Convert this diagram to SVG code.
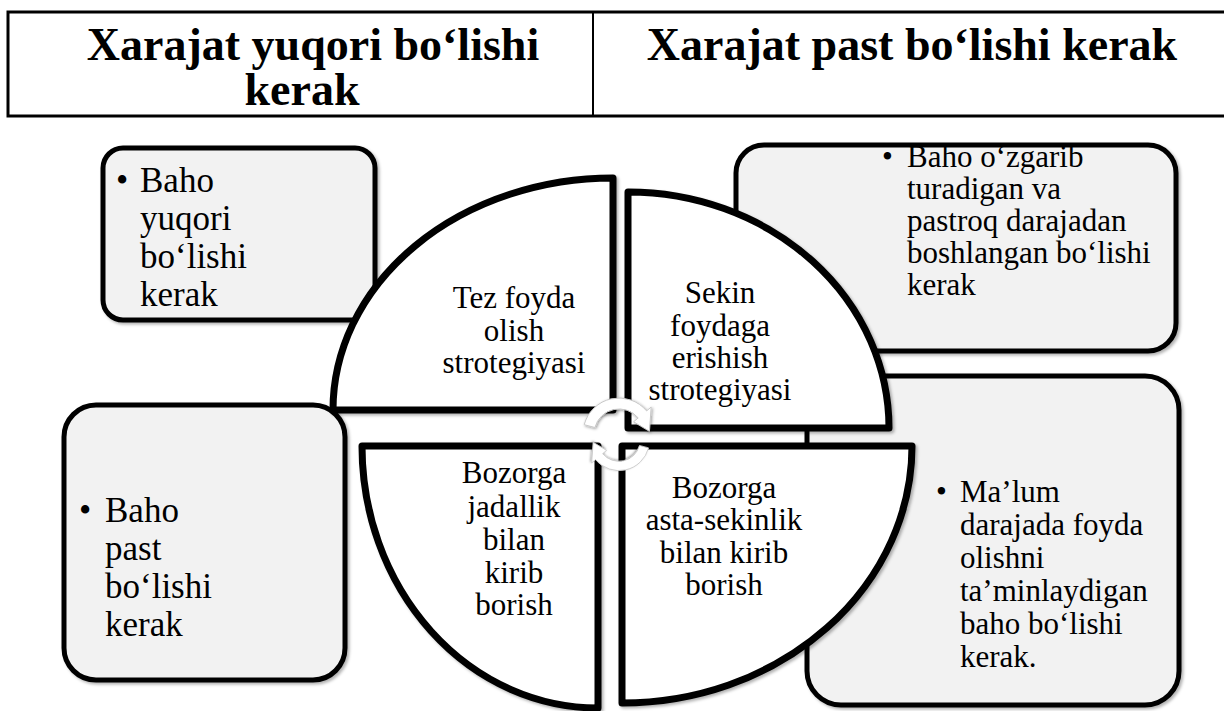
<svg xmlns="http://www.w3.org/2000/svg" width="1224" height="711" viewBox="0 0 1224 711">
  <defs>
    <filter id="shadow" x="-10%" y="-10%" width="120%" height="120%">
      <feDropShadow dx="2" dy="2" stdDeviation="1.5" flood-color="#000" flood-opacity="0.3"/>
    </filter>
    <filter id="softShadow" x="-30%" y="-30%" width="160%" height="160%">
      <feDropShadow dx="1" dy="1" stdDeviation="1.5" flood-color="#000" flood-opacity="0.4"/>
    </filter>
    <!-- curved arrow, centred on its arc centre -->
    <path id="cycleArrow" d="M-34.8,-9.3 A36,36 0 0 1 27.6,-23.1 L32.2,-27 L30.4,-2.7 L14.6,-12.2 L19.2,-16.1 A25,25 0 0 0 -24.1,-6.5 Z"/>
  </defs>
  <style>
    .head { font-weight: bold; font-size: 46px; text-anchor: middle; }
    .box { fill: #f2f2f2; stroke: #000; stroke-width: 5; filter: url(#shadow); }
    .quad { fill: #fff; stroke: #000; stroke-width: 7; stroke-linejoin: round; filter: url(#shadow); }
    .qt { font-size: 31px; text-anchor: middle; }
    .big { font-size: 35px; }
    .small { font-size: 31px; }
    .arrow { fill: #fff; stroke: #c8c8c8; stroke-width: 1; filter: url(#softShadow); }
  </style>

  <rect width="1224" height="711" fill="#fff"/>

  <g font-family="Liberation Serif, Times New Roman, serif" fill="#000">
  <!-- header table -->
  <g id="header">
    <rect x="8" y="12" width="1230" height="104" fill="#fff" stroke="#000" stroke-width="3"/>
    <line x1="593" y1="12" x2="593" y2="116" stroke="#000" stroke-width="2"/>
    <text class="head" x="313" y="60">Xarajat yuqori bo‘lishi</text>
    <text class="head" x="302" y="105">kerak</text>
    <text class="head" x="912" y="60">Xarajat past bo‘lishi kerak</text>
  </g>

  <!-- outer text boxes -->
  <g id="box-top-left">
    <rect class="box" x="103" y="148" width="272" height="172" rx="20"/>
    <text class="big" x="116" y="192">•</text>
    <text class="big" x="140" y="192">Baho</text>
    <text class="big" x="140" y="230">yuqori</text>
    <text class="big" x="140" y="268">bo‘lishi</text>
    <text class="big" x="140" y="306">kerak</text>
  </g>
  <g id="box-top-right">
    <rect class="box" x="736" y="145" width="440" height="206" rx="28"/>
    <text class="small" x="882" y="167">•</text>
    <text class="small" x="907" y="167">Baho o‘zgarib</text>
    <text class="small" x="907" y="199">turadigan va</text>
    <text class="small" x="907" y="231">pastroq darajadan</text>
    <text class="small" x="907" y="263">boshlangan bo‘lishi</text>
    <text class="small" x="907" y="295">kerak</text>
  </g>
  <g id="box-bottom-left">
    <rect class="box" x="64" y="405" width="281" height="275" rx="32"/>
    <text class="big" x="79" y="522">•</text>
    <text class="big" x="105" y="522">Baho</text>
    <text class="big" x="105" y="560">past</text>
    <text class="big" x="105" y="598">bo‘lishi</text>
    <text class="big" x="105" y="636">kerak</text>
  </g>
  <g id="box-bottom-right">
    <rect class="box" x="807" y="376" width="372" height="329" rx="34"/>
    <text class="small" x="936" y="502">•</text>
    <text class="small" x="960" y="502">Ma’lum</text>
    <text class="small" x="960" y="535">darajada foyda</text>
    <text class="small" x="960" y="568">olishni</text>
    <text class="small" x="960" y="601">ta’minlaydigan</text>
    <text class="small" x="960" y="634">baho bo‘lishi</text>
    <text class="small" x="960" y="667">kerak.</text>
  </g>

  <!-- pie quadrants -->
  <g id="quad-top-left">
    <path class="quad" d="M613,410 L333,410 A280,232 0 0 1 613,178 Z"/>
    <text class="qt" x="514" y="308">Tez foyda</text>
    <text class="qt" x="514" y="341">olish</text>
    <text class="qt" x="514" y="373">strotegiyasi</text>
  </g>
  <g id="quad-top-right">
    <path class="quad" d="M628,428 L628,192 A261,236 0 0 1 889,428 Z"/>
    <text class="qt" x="720" y="303">Sekin</text>
    <text class="qt" x="720" y="336">foydaga</text>
    <text class="qt" x="720" y="368">erishish</text>
    <text class="qt" x="720" y="400">strotegiyasi</text>
  </g>
  <g id="quad-bottom-left">
    <path class="quad" d="M598,446 L598,708 A236,262 0 0 1 362,446 Z"/>
    <text class="qt" x="514" y="483">Bozorga</text>
    <text class="qt" x="514" y="517">jadallik</text>
    <text class="qt" x="514" y="550">bilan</text>
    <text class="qt" x="514" y="583">kirib</text>
    <text class="qt" x="514" y="615">borish</text>
  </g>
  <g id="quad-bottom-right">
    <path class="quad" d="M622,446 L912,446 A290,257 0 0 1 622,703 Z"/>
    <text class="qt" x="724" y="498">Bozorga</text>
    <text class="qt" x="724" y="530">asta-sekinlik</text>
    <text class="qt" x="724" y="563">bilan kirib</text>
    <text class="qt" x="724" y="595">borish</text>
  </g>
  </g>

  <!-- centre cycle arrows -->
  <g id="connectors">
    <use href="#cycleArrow" class="arrow" transform="translate(619,434)"/>
    <use href="#cycleArrow" class="arrow" transform="translate(619,440) rotate(180) scale(0.85)"/>
  </g>
</svg>
